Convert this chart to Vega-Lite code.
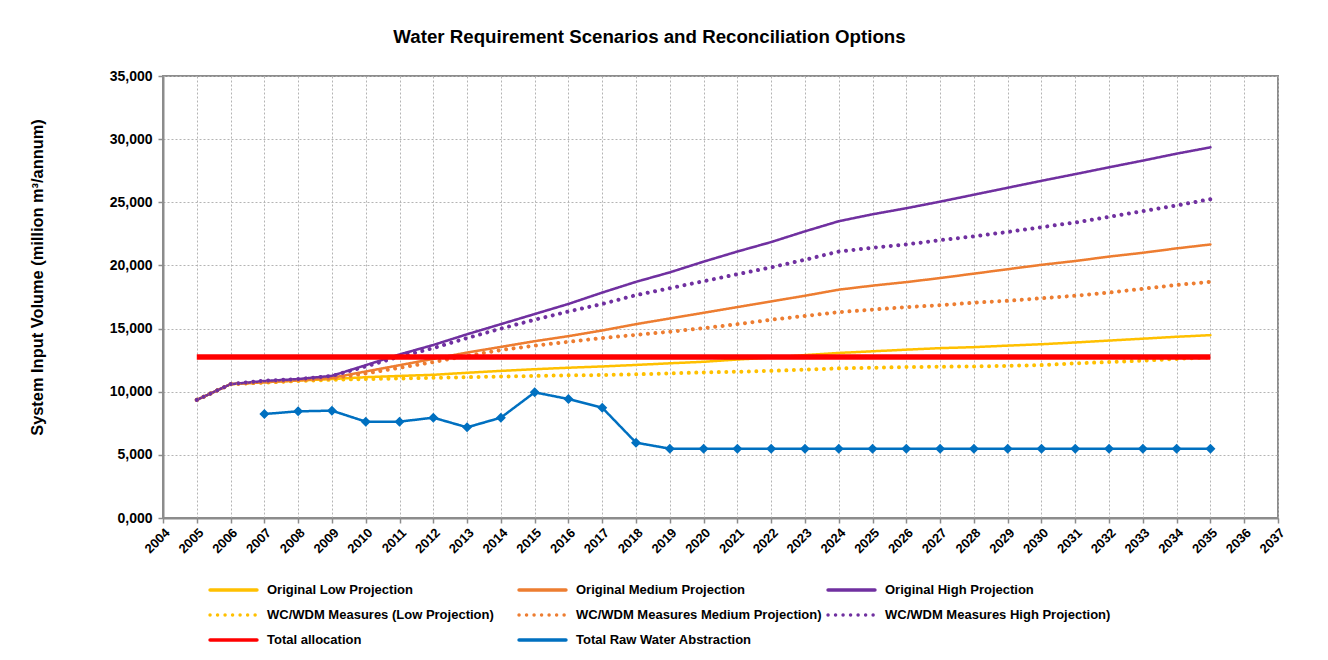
{
  "$schema": "https://vega.github.io/schema/vega-lite/v6.json",
  "width": 1115,
  "height": 442,
  "autosize": {"type": "none"},
  "padding": {"left": 163, "top": 76, "right": 50, "bottom": 142},
  "background": "white",
  "title": {
    "text": "Water Requirement Scenarios and Reconciliation Options",
    "font": "Liberation Sans",
    "fontSize": 18.7,
    "fontWeight": "bold",
    "color": "#000000",
    "anchor": "middle",
    "dx": -71,
    "offset": 22
  },
  "config": {
    "font": "Liberation Sans",
    "view": {"stroke": "#8c8c8c", "strokeWidth": 2},
    "axis": {
      "labelFont": "Liberation Sans",
      "labelFontWeight": "bold",
      "labelColor": "#000000",
      "domainColor": "#8c8c8c",
      "domainWidth": 2,
      "tickColor": "#8c8c8c",
      "tickWidth": 1.5,
      "tickSize": 5,
      "gridColor": "#b4b4b4",
      "gridDash": [2, 2],
      "gridWidth": 1
    },
    "legend": {
      "title": null,
      "orient": "none",
      "direction": "horizontal",
      "columns": 3,
      "symbolType": "stroke",
      "symbolSize": 2200,
      "symbolStrokeWidth": 3.5,
      "labelFont": "Liberation Sans",
      "labelFontSize": 13,
      "labelFontWeight": "bold",
      "labelColor": "#000000",
      "labelOffset": 8,
      "gridAlign": "all",
      "columnPadding": 4,
      "rowPadding": 9,
      "clipHeight": 16,
      "labelLimit": 400
    }
  },
  "data": {
    "values": [
      {"year": 2005, "Original Low Projection": 9350, "Original Medium Projection": 9350, "Original High Projection": 9350, "WC/WDM Measures (Low Projection)": 9350, "WC/WDM Measures Medium Projection)": 9350, "WC/WDM Measures High Projection)": 9350, "Total allocation": 12750},
      {"year": 2006, "Original Low Projection": 10600, "Original Medium Projection": 10600, "Original High Projection": 10600, "WC/WDM Measures (Low Projection)": 10600, "WC/WDM Measures Medium Projection)": 10600, "WC/WDM Measures High Projection)": 10600, "Total allocation": 12750},
      {"year": 2007, "Original Low Projection": 10750, "Original Medium Projection": 10750, "Original High Projection": 10850, "WC/WDM Measures (Low Projection)": 10720, "WC/WDM Measures Medium Projection)": 10750, "WC/WDM Measures High Projection)": 10870, "Total allocation": 12750, "Total Raw Water Abstraction": 8235},
      {"year": 2008, "Original Low Projection": 10880, "Original Medium Projection": 10900, "Original High Projection": 11000, "WC/WDM Measures (Low Projection)": 10850, "WC/WDM Measures Medium Projection)": 10900, "WC/WDM Measures High Projection)": 11000, "Total allocation": 12750, "Total Raw Water Abstraction": 8447},
      {"year": 2009, "Original Low Projection": 11000, "Original Medium Projection": 11100, "Original High Projection": 11260, "WC/WDM Measures (Low Projection)": 10950, "WC/WDM Measures Medium Projection)": 11050, "WC/WDM Measures High Projection)": 11250, "Total allocation": 12750, "Total Raw Water Abstraction": 8500},
      {"year": 2010, "Original Low Projection": 11150, "Original Medium Projection": 11600, "Original High Projection": 12100, "WC/WDM Measures (Low Projection)": 11000, "WC/WDM Measures Medium Projection)": 11450, "WC/WDM Measures High Projection)": 12000, "Total allocation": 12750, "Total Raw Water Abstraction": 7630},
      {"year": 2011, "Original Low Projection": 11250, "Original Medium Projection": 12100, "Original High Projection": 12950, "WC/WDM Measures (Low Projection)": 11050, "WC/WDM Measures Medium Projection)": 11900, "WC/WDM Measures High Projection)": 12780, "Total allocation": 12750, "Total Raw Water Abstraction": 7630},
      {"year": 2012, "Original Low Projection": 11340, "Original Medium Projection": 12600, "Original High Projection": 13700, "WC/WDM Measures (Low Projection)": 11100, "WC/WDM Measures Medium Projection)": 12350, "WC/WDM Measures High Projection)": 13450, "Total allocation": 12750, "Total Raw Water Abstraction": 7945},
      {"year": 2013, "Original Low Projection": 11500, "Original Medium Projection": 13100, "Original High Projection": 14550, "WC/WDM Measures (Low Projection)": 11150, "WC/WDM Measures Medium Projection)": 12850, "WC/WDM Measures High Projection)": 14250, "Total allocation": 12750, "Total Raw Water Abstraction": 7180},
      {"year": 2014, "Original Low Projection": 11650, "Original Medium Projection": 13550, "Original High Projection": 15350, "WC/WDM Measures (Low Projection)": 11200, "WC/WDM Measures Medium Projection)": 13300, "WC/WDM Measures High Projection)": 15000, "Total allocation": 12750, "Total Raw Water Abstraction": 7945},
      {"year": 2015, "Original Low Projection": 11780, "Original Medium Projection": 14000, "Original High Projection": 16150, "WC/WDM Measures (Low Projection)": 11250, "WC/WDM Measures Medium Projection)": 13650, "WC/WDM Measures High Projection)": 15700, "Total allocation": 12750, "Total Raw Water Abstraction": 9950},
      {"year": 2016, "Original Low Projection": 11900, "Original Medium Projection": 14400, "Original High Projection": 16950, "WC/WDM Measures (Low Projection)": 11300, "WC/WDM Measures Medium Projection)": 13950, "WC/WDM Measures High Projection)": 16350, "Total allocation": 12750, "Total Raw Water Abstraction": 9420},
      {"year": 2017, "Original Low Projection": 12000, "Original Medium Projection": 14850, "Original High Projection": 17850, "WC/WDM Measures (Low Projection)": 11320, "WC/WDM Measures Medium Projection)": 14250, "WC/WDM Measures High Projection)": 16950, "Total allocation": 12750, "Total Raw Water Abstraction": 8735},
      {"year": 2018, "Original Low Projection": 12120, "Original Medium Projection": 15350, "Original High Projection": 18700, "WC/WDM Measures (Low Projection)": 11380, "WC/WDM Measures Medium Projection)": 14500, "WC/WDM Measures High Projection)": 17650, "Total allocation": 12750, "Total Raw Water Abstraction": 5965},
      {"year": 2019, "Original Low Projection": 12250, "Original Medium Projection": 15800, "Original High Projection": 19450, "WC/WDM Measures (Low Projection)": 11450, "WC/WDM Measures Medium Projection)": 14750, "WC/WDM Measures High Projection)": 18200, "Total allocation": 12750, "Total Raw Water Abstraction": 5490},
      {"year": 2020, "Original Low Projection": 12370, "Original Medium Projection": 16250, "Original High Projection": 20300, "WC/WDM Measures (Low Projection)": 11530, "WC/WDM Measures Medium Projection)": 15030, "WC/WDM Measures High Projection)": 18750, "Total allocation": 12750, "Total Raw Water Abstraction": 5490},
      {"year": 2021, "Original Low Projection": 12550, "Original Medium Projection": 16700, "Original High Projection": 21100, "WC/WDM Measures (Low Projection)": 11580, "WC/WDM Measures Medium Projection)": 15350, "WC/WDM Measures High Projection)": 19300, "Total allocation": 12750, "Total Raw Water Abstraction": 5490},
      {"year": 2022, "Original Low Projection": 12700, "Original Medium Projection": 17150, "Original High Projection": 21850, "WC/WDM Measures (Low Projection)": 11650, "WC/WDM Measures Medium Projection)": 15700, "WC/WDM Measures High Projection)": 19850, "Total allocation": 12750, "Total Raw Water Abstraction": 5490},
      {"year": 2023, "Original Low Projection": 12900, "Original Medium Projection": 17600, "Original High Projection": 22700, "WC/WDM Measures (Low Projection)": 11750, "WC/WDM Measures Medium Projection)": 16000, "WC/WDM Measures High Projection)": 20450, "Total allocation": 12750, "Total Raw Water Abstraction": 5490},
      {"year": 2024, "Original Low Projection": 13070, "Original Medium Projection": 18080, "Original High Projection": 23500, "WC/WDM Measures (Low Projection)": 11850, "WC/WDM Measures Medium Projection)": 16300, "WC/WDM Measures High Projection)": 21100, "Total allocation": 12750, "Total Raw Water Abstraction": 5490},
      {"year": 2025, "Original Low Projection": 13200, "Original Medium Projection": 18400, "Original High Projection": 24050, "WC/WDM Measures (Low Projection)": 11900, "WC/WDM Measures Medium Projection)": 16500, "WC/WDM Measures High Projection)": 21400, "Total allocation": 12750, "Total Raw Water Abstraction": 5490},
      {"year": 2026, "Original Low Projection": 13330, "Original Medium Projection": 18680, "Original High Projection": 24530, "WC/WDM Measures (Low Projection)": 11950, "WC/WDM Measures Medium Projection)": 16700, "WC/WDM Measures High Projection)": 21660, "Total allocation": 12750, "Total Raw Water Abstraction": 5490},
      {"year": 2027, "Original Low Projection": 13450, "Original Medium Projection": 19000, "Original High Projection": 25050, "WC/WDM Measures (Low Projection)": 11980, "WC/WDM Measures Medium Projection)": 16850, "WC/WDM Measures High Projection)": 22000, "Total allocation": 12750, "Total Raw Water Abstraction": 5490},
      {"year": 2028, "Original Low Projection": 13530, "Original Medium Projection": 19350, "Original High Projection": 25600, "WC/WDM Measures (Low Projection)": 12000, "WC/WDM Measures Medium Projection)": 17050, "WC/WDM Measures High Projection)": 22300, "Total allocation": 12750, "Total Raw Water Abstraction": 5490},
      {"year": 2029, "Original Low Projection": 13650, "Original Medium Projection": 19700, "Original High Projection": 26150, "WC/WDM Measures (Low Projection)": 12050, "WC/WDM Measures Medium Projection)": 17200, "WC/WDM Measures High Projection)": 22650, "Total allocation": 12750, "Total Raw Water Abstraction": 5490},
      {"year": 2030, "Original Low Projection": 13760, "Original Medium Projection": 20050, "Original High Projection": 26700, "WC/WDM Measures (Low Projection)": 12110, "WC/WDM Measures Medium Projection)": 17400, "WC/WDM Measures High Projection)": 23030, "Total allocation": 12750, "Total Raw Water Abstraction": 5490},
      {"year": 2031, "Original Low Projection": 13900, "Original Medium Projection": 20350, "Original High Projection": 27230, "WC/WDM Measures (Low Projection)": 12250, "WC/WDM Measures Medium Projection)": 17600, "WC/WDM Measures High Projection)": 23400, "Total allocation": 12750, "Total Raw Water Abstraction": 5490},
      {"year": 2032, "Original Low Projection": 14050, "Original Medium Projection": 20700, "Original High Projection": 27770, "WC/WDM Measures (Low Projection)": 12350, "WC/WDM Measures Medium Projection)": 17850, "WC/WDM Measures High Projection)": 23850, "Total allocation": 12750, "Total Raw Water Abstraction": 5490},
      {"year": 2033, "Original Low Projection": 14200, "Original Medium Projection": 21000, "Original High Projection": 28300, "WC/WDM Measures (Low Projection)": 12460, "WC/WDM Measures Medium Projection)": 18150, "WC/WDM Measures High Projection)": 24300, "Total allocation": 12750, "Total Raw Water Abstraction": 5490},
      {"year": 2034, "Original Low Projection": 14350, "Original Medium Projection": 21350, "Original High Projection": 28850, "WC/WDM Measures (Low Projection)": 12600, "WC/WDM Measures Medium Projection)": 18450, "WC/WDM Measures High Projection)": 24750, "Total allocation": 12750, "Total Raw Water Abstraction": 5490},
      {"year": 2035, "Original Low Projection": 14480, "Original Medium Projection": 21660, "Original High Projection": 29350, "WC/WDM Measures (Low Projection)": 12730, "WC/WDM Measures Medium Projection)": 18700, "WC/WDM Measures High Projection)": 25250, "Total allocation": 12750, "Total Raw Water Abstraction": 5490}
    ]
  },
  "transform": [
    {"fold": ["Original Low Projection", "Original Medium Projection", "Original High Projection", "WC/WDM Measures (Low Projection)", "WC/WDM Measures Medium Projection)", "WC/WDM Measures High Projection)", "Total allocation", "Total Raw Water Abstraction"], "as": ["series", "value"]},
    {"filter": "isValid(datum.value)"}
  ],
  "encoding": {
    "x": {
      "field": "year",
      "type": "quantitative",
      "scale": {"domain": [2004, 2037], "nice": false, "zero": false},
      "axis": {
        "title": null,
        "values": [2004, 2005, 2006, 2007, 2008, 2009, 2010, 2011, 2012, 2013, 2014, 2015, 2016, 2017, 2018, 2019, 2020, 2021, 2022, 2023, 2024, 2025, 2026, 2027, 2028, 2029, 2030, 2031, 2032, 2033, 2034, 2035, 2036, 2037],
        "format": "d",
        "labelAngle": -45,
        "labelFontSize": 13,
        "labelPadding": 3,
        "labelOverlap": false,
        "grid": true
      }
    },
    "y": {
      "field": "value",
      "type": "quantitative",
      "scale": {"domain": [0, 35000], "nice": false},
      "axis": {
        "title": "System Input Volume (million m³/annum)",
        "titleFont": "Liberation Sans",
        "titleFontSize": 16.4,
        "titleFontWeight": "bold",
        "titleColor": "#000000",
        "titleX": -126,
        "titleY": 201,
        "titleAngle": -90,
        "titleAlign": "center",
        "titleBaseline": "middle",
        "values": [0, 5000, 10000, 15000, 20000, 25000, 30000, 35000],
        "labelExpr": "datum.value == 0 ? '0,000' : format(datum.value, ',')",
        "labelFontSize": 14,
        "labelPadding": 6,
        "grid": true
      }
    },
    "color": {
      "field": "series",
      "type": "nominal",
      "scale": {
        "domain": ["Original Low Projection", "Original Medium Projection", "Original High Projection", "WC/WDM Measures (Low Projection)", "WC/WDM Measures Medium Projection)", "WC/WDM Measures High Projection)", "Total allocation", "Total Raw Water Abstraction"],
        "range": ["#FFC000", "#ED7D31", "#7030A0", "#FFC000", "#ED7D31", "#7030A0", "#FF0000", "#0070C0"]
      },
      "legend": {"legendX": 45, "legendY": 506, "encode": {"symbols": {"update": {"strokeCap": {"value": "round"}}}}}
    },
    "strokeDash": {
      "field": "series",
      "type": "nominal",
      "scale": {
        "domain": ["Original Low Projection", "Original Medium Projection", "Original High Projection", "WC/WDM Measures (Low Projection)", "WC/WDM Measures Medium Projection)", "WC/WDM Measures High Projection)", "Total allocation", "Total Raw Water Abstraction"],
        "range": [[1, 0], [1, 0], [1, 0], [0.01, 7.5], [0.01, 7.5], [0.01, 7.5], [1, 0], [1, 0]]
      },
      "legend": {"legendX": 45, "legendY": 506, "encode": {"symbols": {"update": {"strokeCap": {"value": "round"}}}}}
    }
  },
  "layer": [
    {
      "transform": [{"filter": "datum.series == 'Original Low Projection' || datum.series == 'Original Medium Projection' || datum.series == 'Original High Projection'"}],
      "mark": {"type": "line", "strokeCap": "round", "strokeJoin": "round", "strokeWidth": 2.5}
    },
    {
      "transform": [{"filter": "datum.series == 'WC/WDM Measures (Low Projection)' || datum.series == 'WC/WDM Measures Medium Projection)' || datum.series == 'WC/WDM Measures High Projection)'"}],
      "mark": {"type": "line", "strokeCap": "round", "strokeJoin": "round", "strokeWidth": 4}
    },
    {
      "transform": [{"filter": "datum.series == 'Total allocation'"}],
      "mark": {"type": "line", "strokeCap": "butt", "strokeWidth": 5.5}
    },
    {
      "transform": [{"filter": "datum.series == 'Total Raw Water Abstraction'"}],
      "mark": {"type": "line", "strokeCap": "round", "strokeJoin": "round", "strokeWidth": 2.5}
    },
    {
      "transform": [{"filter": "datum.series == 'Total Raw Water Abstraction'"}],
      "mark": {"type": "point", "shape": "diamond", "filled": true, "size": 100, "opacity": 1},
      "encoding": {"color": {"value": "#0070C0"}, "strokeDash": {"value": [1, 0]}}
    }
  ]
}
